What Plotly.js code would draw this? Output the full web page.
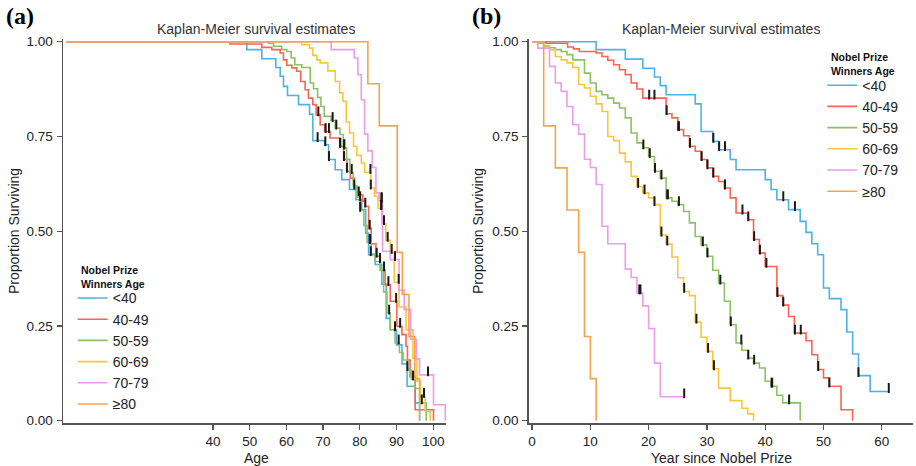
<!DOCTYPE html>
<html><head><meta charset="utf-8">
<script src="https://cdn.plot.ly/plotly-3.0.1.min.js"></script>
<style>html,body{margin:0;padding:0;background:#fff}#chart{width:916px;height:466px}</style>
</head><body><div id="chart"></div>
<script>
// ---------- DATA ----------
const groupNames = ['<40', '40-49', '50-59', '60-69', '70-79', '≥80'];
const legendTitle = 'Nobel Prize<br>Winners Age';

// Panel (a): survival against age
const ageTimesLt40 = [0, 49.2, 53.3, 57.1, 58.3, 59.2, 60.3, 63.3, 66.3, 67.2, 70.4, 71.5, 73.3, 75.1, 77.2, 79.0, 80.5, 81.6, 82.4, 84.2, 86.0, 87.2, 88.3, 90.0, 91.5, 92.9, 95.1, 96.3];
const ageSurvLt40  = [1, .979, .955, .932, .909, .882, .858, .834, .809, .739, .728, .689, .662, .636, .610, .583, .557, .495, .438, .412, .36, .27, .24, .20, .15, .091, .047, 0];
const ageCensLt40  = [68.5, 70.6, 71.6, 80.1, 83.0, 89.6];

const ageTimes4049 = [0, 44.6, 53.3, 56.0, 58.3, 59.2, 60.1, 61.5, 62.8, 63.9, 65.1, 66.0, 67.2, 68.1, 69.2, 70.4, 71.9, 74.6, 75.6, 76.5, 77.4, 78.5, 79.7, 80.8, 81.5, 82.4, 83.1, 84.4, 85.6, 86.9, 88.3, 90.1, 91.5, 92.6, 93.0, 93.7, 95.1, 100.1];
const ageSurv4049  = [1, .994, .985, .979, .970, .952, .938, .931, .922, .895, .873, .851, .834, .807, .781, .763, .746, .724, .689, .658, .640, .614, .596, .579, .566, .508, .467, .434, .398, .359, .315, .249, .227, .196, .16, .117, .029, 0];
const ageCens4049  = [68.7, 70.7, 71.6, 74.6, 74.7, 75.7, 76.5, 78.5, 79.7, 81.5, 82.7, 84.6, 86.6, 87.8, 89.9, 91.0];

const ageTimes5059 = [0, 55.1, 56.5, 58.7, 60.1, 61.3, 62.3, 64.2, 66.5, 67.4, 68.5, 69.4, 70.3, 72.2, 73.3, 74.6, 75.5, 76.4, 77.3, 78.2, 79.2, 80.1, 81.1, 82.0, 83.1, 84.2, 85.6, 86.5, 87.4, 88.3, 89.6, 90.8, 91.8, 92.8, 94.0, 95.0, 96.3, 98.1];
const ageSurv5059  = [1, .996, .988, .979, .974, .957, .939, .932, .891, .876, .853, .829, .803, .792, .772, .755, .72, .69, .655, .62, .59, .555, .515, .47, .44, .42, .398, .34, .284, .24, .205, .18, .16, .135, .11, .085, .047, 0];
const ageCens5059  = [72.6, 73.6, 75.7, 75.8, 77.8, 80.1, 82.7, 82.8, 85.5, 88.0, 90.6, 93.0, 94.5, 96.9];

const ageTimes6069 = [0, 64.2, 66.3, 67.2, 68.3, 69.2, 71.3, 73.3, 74.5, 75.4, 76.3, 77.2, 78.3, 79.2, 80.4, 81.3, 83.0, 84.0, 85.0, 86.0, 87.1, 88.3, 89.4, 90.7, 92.6, 94.5, 95.6, 96.5, 97.8, 99.2];
const ageSurv6069  = [1, .992, .983, .964, .952, .944, .923, .895, .865, .843, .788, .759, .724, .70, .68, .655, .614, .592, .56, .52, .476, .444, .365, .30, .24, .165, .104, .064, .025, 0];
const ageCens6069  = [82.9, 83.0, 85.8, 85.9, 86.6, 87.6, 88.7, 90.6, 97.5];

const ageTimes7079 = [0, 72.2, 78.5, 79.5, 80.4, 81.3, 82.2, 83.4, 84.4, 85.3, 86.2, 88.3, 90.7, 92.1, 93.9, 95.4, 96.3, 100.1, 103.3];
const ageSurv7079  = [1, .979, .957, .913, .847, .756, .712, .668, .601, .58, .447, .425, .344, .293, .215, .163, .121, .042, 0];
const ageCens7079  = [85.9, 86.0, 89.6, 98.6];

const ageTimes80 = [0, 82.2, 85.3, 90.2, 91.6, 93.4, 95.0, 96.3];
const ageSurv80  = [1, .889, .778, .444, .333, .222, .111, 0];
const ageCens80  = [];

// Panel (b): survival against years since Nobel Prize
const yrsTimesLt40 = [0, 11, 16, 19, 21, 22, 23, 28, 29, 31, 32, 34, 35, 40, 41, 42, 44, 46, 47, 48, 49, 50, 51, 53, 54, 55, 56, 58, 61.2];
const yrsSurvLt40  = [1, .979, .954, .930, .907, .884, .860, .836, .763, .737, .715, .689, .662, .636, .610, .583, .557, .526, .497, .467, .438, .350, .322, .293, .234, .176, .119, .077, .077];
const yrsCensLt40  = [31.1, 32.1, 33.1, 43.1, 45.1, 56.0, 61.2];

const yrsTimes4049 = [0, 2.4, 6.1, 7.1, 8.1, 11, 12, 13, 14, 15, 16, 17, 18, 19, 23, 24, 25, 26, 27, 28, 29, 30, 31, 32, 33, 34, 35, 37, 38, 39, 40, 42, 43, 44, 45, 47, 48, 49, 50, 51, 53, 55];
const yrsSurv4049  = [1, .996, .986, .981, .974, .970, .961, .951, .939, .926, .913, .891, .875, .851, .810, .799, .768, .752, .724, .711, .689, .667, .645, .631, .614, .588, .548, .530, .478, .442, .407, .33, .305, .275, .231, .211, .174, .135, .113, .091, .029, 0];
const yrsCens4049  = [20.1, 21.0, 23.1, 25.1, 25.2, 27.1, 29.1, 30.1, 31.1, 33.1, 36.1, 37.1, 38.1, 39.1, 40.2, 42.1, 43.1, 45.1, 46.1, 49.1, 51.0];

const yrsTimes5059 = [0, 1, 2, 3, 4, 5, 6, 7, 9, 10, 11, 12, 13, 14, 15, 16, 17, 18, 19, 20, 21, 22, 23, 24, 25, 26, 27, 28, 29, 30, 31, 32, 33, 34, 35, 36, 37, 38, 39, 40, 41, 42, 43, 46];
const yrsSurv5059  = [1, .996, .988, .984, .979, .974, .966, .952, .917, .891, .869, .860, .851, .838, .825, .799, .759, .733, .720, .697, .658, .640, .588, .579, .570, .552, .522, .486, .464, .434, .397, .363, .315, .253, .205, .186, .165, .152, .139, .104, .091, .067, .047, 0];
const yrsCens5059  = [19.1, 20.2, 21.1, 22.2, 23.2, 23.3, 25.2, 29.3, 30.1, 32.3, 34.1, 35.9, 37.1, 38.1, 41.1, 41.2, 44.1];

const yrsTimes6069 = [0, 2, 3, 4, 5, 6, 7, 8, 9, 10, 11, 12, 13, 14, 15, 16, 17, 18, 19, 20, 21, 22, 23, 24, 25, 26, 27, 28, 29, 30, 31, 32, 34, 36, 37, 38];
const yrsSurv6069  = [1, .99, .979, .961, .952, .944, .932, .887, .878, .856, .836, .816, .750, .739, .706, .683, .645, .618, .601, .588, .570, .49, .466, .432, .377, .341, .330, .260, .220, .183, .137, .086, .053, .033, .018, 0];
const yrsCens6069  = [18.2, 19.3, 21.0, 22.2, 23.2, 26.1, 28.2, 30.2, 31.2];

const yrsTimes7079 = [0, 1, 3, 4, 5, 6, 7, 8, 9, 10, 11, 12, 13, 16, 17, 18, 19, 20, 21, 22, 26.1];
const yrsSurv7079  = [1, .983, .935, .891, .869, .829, .781, .756, .69, .668, .623, .513, .467, .40, .378, .337, .303, .243, .152, .063, .063];
const yrsCens7079  = [18.4, 18.6, 26.1];

const yrsTimes80 = [0, 2, 4, 6, 8, 9, 10, 11];
const yrsSurv80  = [1, .778, .667, .556, .444, .222, .111, 0];
const yrsCens80  = [];

const yTickVals = [0, 0.25, 0.5, 0.75, 1];
const ageTickVals = [40, 50, 60, 70, 80, 90, 100];
const yrsTickVals = [0, 10, 20, 30, 40, 50, 60];

// ---------- STYLE ----------
const colors = ['#50B1E6', '#FA6450', '#8CC266', '#F8C63D', '#EE9BEE', '#F8A24C'];
const W = 916, H = 466;
const px = v => v / W;
const py = v => 1 - v / H;
const FONT = 'Liberation Sans, Arial, Helvetica, sans-serif';
const markOffset = 3.5 / 379;

function stepAt(times, surv, t) {
  let v = surv[0];
  for (let i = 0; i < times.length; i++) { if (times[i] <= t) v = surv[i]; }
  return v;
}

const panelA = [
  [ageTimesLt40, ageSurvLt40, ageCensLt40],
  [ageTimes4049, ageSurv4049, ageCens4049],
  [ageTimes5059, ageSurv5059, ageCens5059],
  [ageTimes6069, ageSurv6069, ageCens6069],
  [ageTimes7079, ageSurv7079, ageCens7079],
  [ageTimes80, ageSurv80, ageCens80]
];
const panelB = [
  [yrsTimesLt40, yrsSurvLt40, yrsCensLt40],
  [yrsTimes4049, yrsSurv4049, yrsCens4049],
  [yrsTimes5059, yrsSurv5059, yrsCens5059],
  [yrsTimes6069, yrsSurv6069, yrsCens6069],
  [yrsTimes7079, yrsSurv7079, yrsCens7079],
  [yrsTimes80, yrsSurv80, yrsCens80]
];

const traces = [];
const censTraces = [];
function addPanel(panel, xa, ya, legendId) {
  panel.forEach((g, i) => {
    const [times, surv, cens] = g;
    traces.push({
      type: 'scatter', mode: 'lines', x: times, y: surv, xaxis: xa, yaxis: ya,
      line: {shape: 'hv', color: colors[i], width: 1.6},
      name: groupNames[i], legend: legendId, showlegend: true, hoverinfo: 'skip'
    });
    if (cens.length) {
      censTraces.push({
        type: 'scatter', mode: 'markers', x: cens,
        y: cens.map(t => stepAt(times, surv, t) + markOffset),
        xaxis: xa, yaxis: ya, showlegend: false, hoverinfo: 'skip',
        marker: {symbol: 'line-ns', size: 7, line: {width: 2, color: '#1a1a1a'}, color: '#1a1a1a'}
      });
    }
  });
}
addPanel(panelA, 'x', 'y', 'legend');
addPanel(panelB, 'x2', 'y2', 'legend2');

const axisCommon = {
  showline: true, linecolor: '#555', linewidth: 1.5, mirror: false,
  ticks: 'outside', ticklen: 5, tickwidth: 1.3, tickcolor: '#555',
  showgrid: false, zeroline: false, fixedrange: true,
  tickfont: {family: FONT, size: 13.5, color: '#222'}
};
const yDomain = [py(423), py(39)];
const yRange = [-0.0061, 1.0071];

const legendCommon = {
  xanchor: 'left', yanchor: 'top', bgcolor: 'rgba(0,0,0,0)', borderwidth: 0,
  font: {family: FONT, size: 14, color: '#222'}, tracegroupgap: 0, itemwidth: 30
};

const titleFont = {family: FONT, size: 14, color: '#333'};
const labelFont = {family: FONT, size: 14, color: '#222'};
const legTitleFont = {family: FONT, size: 10.5, color: '#111'};
const panelFont = {family: 'Liberation Serif, Times New Roman, serif', size: 24, color: '#000'};

function ann(text, x, y, font, extra) {
  return Object.assign({text: text, x: px(x), y: py(y), xref: 'paper', yref: 'paper',
    xanchor: 'center', yanchor: 'middle', showarrow: false, font: font}, extra || {});
}

const layout = {
  width: W, height: H, margin: {l: 0, r: 0, t: 0, b: 0},
  paper_bgcolor: '#fff', plot_bgcolor: '#fff',
  font: {family: FONT, color: '#222'},
  showlegend: true,
  xaxis: Object.assign({}, axisCommon, {domain: [px(63), px(446)], range: [-0.9, 103.5], tickvals: ageTickVals, anchor: 'y', ticklabelstandoff: 0}),
  yaxis: Object.assign({}, axisCommon, {domain: yDomain, range: yRange, tickvals: yTickVals, tickformat: '.2f', anchor: 'x', ticklabelstandoff: 1}),
  xaxis2: Object.assign({}, axisCommon, {domain: [px(528.7), px(912.7)], range: [-0.57, 65.3], tickvals: yrsTickVals, anchor: 'y2', ticklabelstandoff: 0}),
  yaxis2: Object.assign({}, axisCommon, {domain: yDomain, range: yRange, tickvals: yTickVals, tickformat: '.2f', anchor: 'x2', ticklabelstandoff: 1}),
  legend: Object.assign({}, legendCommon, {x: px(72.7), y: py(282.4)}),
  legend2: Object.assign({}, legendCommon, {x: px(822.3), y: py(69.6)}),
  annotations: [
    ann('<b>(a)</b>', 4, 16, panelFont, {xanchor: 'left'}),
    ann('<b>(b)</b>', 470, 16, panelFont, {xanchor: 'left'}),
    ann('Kaplan-Meier survival estimates', 256, 29, titleFont),
    ann('Kaplan-Meier survival estimates', 721, 29, titleFont),
    ann('Proportion Surviving', 14, 231, labelFont, {textangle: -90}),
    ann('Proportion Surviving', 478, 231, labelFont, {textangle: -90}),
    ann('Age', 256, 457.5, labelFont),
    ann('Year since Nobel Prize', 721, 457.5, labelFont),
    ann('<b>' + legendTitle + '</b>', 79, 276.5, legTitleFont, {xanchor: 'left', align: 'left'}),
    ann('<b>' + legendTitle + '</b>', 829.3, 64, legTitleFont, {xanchor: 'left', align: 'left'})
  ]
};

Plotly.newPlot('chart', traces.concat(censTraces), layout, {displayModeBar: false, staticPlot: true});
</script>
</body></html>
